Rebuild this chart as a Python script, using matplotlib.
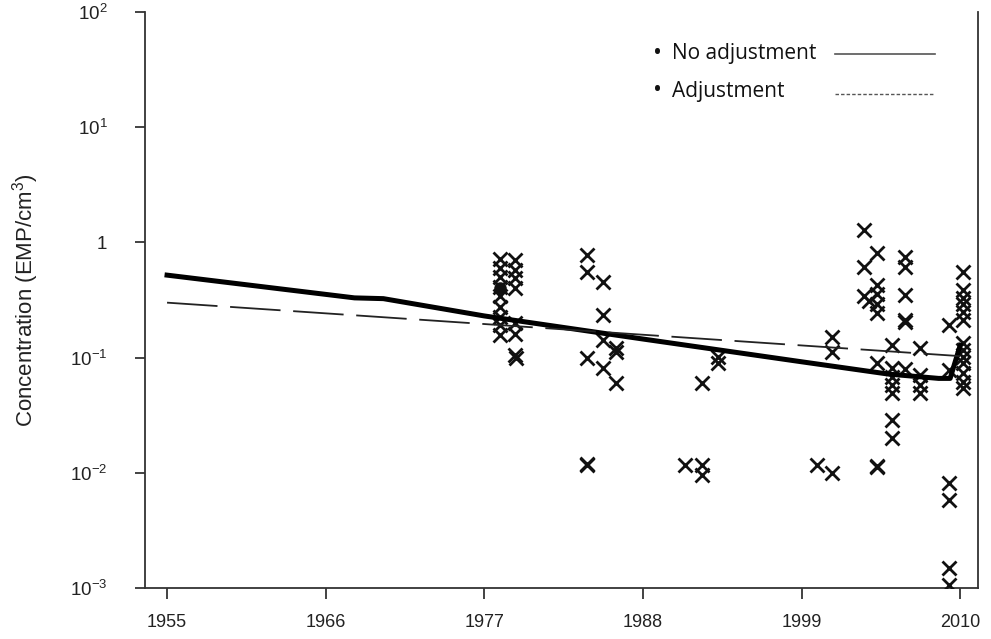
"""
Asbestos fibre concentration over time, with and without adjustment.
"""

import matplotlib
matplotlib.use("Agg")
import matplotlib.pyplot as plt

plt.rcParams["font.family"] = ["Liberation Sans", "DejaVu Sans"]
plt.rcParams["mathtext.fontset"] = "custom"
plt.rcParams["mathtext.rm"] = "Liberation Sans"

# measured concentrations (EMP/cm3)
obs_years = (
    [1978.1] * 9
    + [1979.1] * 7 + [1979.2]
    + [1984.1] * 5
    + [1985.2] * 4
    + [1986.1] * 3
    + [1990.9]
    + [1992.1] * 3
    + [1993.2] * 2
    + [2000.1]
    + [2001.1] * 3
    + [2003.3] * 3 + [2003.7]
    + [2004.2] * 8
    + [2005.3] * 7
    + [2006.2] * 6
    + [2007.2] * 4
    + [2009.2] * 6
    + [2010.2] * 13
)
obs_conc = [
    0.72, 0.60, 0.50, 0.41, 0.34, 0.275, 0.225, 0.19, 0.157,
    0.70, 0.58, 0.49, 0.40, 0.20, 0.16, 0.106, 0.10,
    0.78, 0.55, 0.099, 0.0117, 0.0119,
    0.45, 0.234, 0.142, 0.081,
    0.121, 0.112, 0.06,
    0.0117,
    0.06, 0.0117, 0.0096,
    0.101, 0.090,
    0.0117,
    0.151, 0.112, 0.0100,
    1.28, 0.61, 0.34, 0.31,
    0.81, 0.43, 0.36, 0.29, 0.244, 0.09, 0.0112, 0.0115,
    0.129, 0.081, 0.068, 0.058, 0.049, 0.029, 0.020,
    0.75, 0.61, 0.35, 0.204, 0.21, 0.08,
    0.121, 0.071, 0.058, 0.049,
    0.19, 0.078, 0.0081, 0.0058, 0.0015, 0.00106,
    0.55, 0.386, 0.33, 0.29, 0.25, 0.21, 0.134, 0.116, 0.101, 0.090, 0.073, 0.061, 0.054,
]

# dense overlap of samples
dot_years = [1978.1]
dot_conc = [0.40]

# fitted trends
trend_years = [1955, 1968, 1970, 1977, 1988, 1999, 2005, 2008.5, 2009.3, 2010]
no_adj = [0.52, 0.33, 0.325, 0.23, 0.145, 0.092, 0.072, 0.066, 0.066, 0.128]
adj_years = [1955, 2010]
adj = [0.30, 0.103]

x_ticks = [1955, 1966, 1977, 1988, 1999, 2010]
y_ticks = [1e-3, 1e-2, 1e-1, 1, 10, 100]
y_labels = [r"$\mathregular{10^{-3}}$", r"$\mathregular{10^{-2}}$",
            r"$\mathregular{10^{-1}}$", "1",
            r"$\mathregular{10^{1}}$", r"$\mathregular{10^{2}}$"]

legend_labels = ["No adjustment", "Adjustment"]


def main():
    W, H = 991, 639
    fig = plt.figure(figsize=(W / 100, H / 100), dpi=100)
    ax = fig.add_axes([0.1463, 0.0798, 0.8407, 0.9014])

    ax.plot(obs_years, obs_conc, linestyle="none", marker="x",
            markersize=10, markeredgewidth=2.0, color="#111111", zorder=3)
    ax.plot(dot_years, dot_conc, linestyle="none", marker="o",
            markersize=8, color="#111111", zorder=3)

    ax.plot(trend_years, no_adj, color="black", linewidth=3.6,
            solid_joinstyle="round", zorder=4)
    ax.plot(adj_years, adj, color="#222222", linewidth=1.3,
            dashes=(28, 7), zorder=4)

    ax.set_yscale("log")
    ax.set_xlim(1953.47, 2011.24)
    ax.set_ylim(1e-3, 1e2)

    ax.set_xticks(x_ticks)
    ax.set_xticklabels([str(y) for y in x_ticks])
    ax.set_yticks(y_ticks)
    ax.set_yticklabels(y_labels)
    ax.minorticks_off()

    ax.tick_params(axis="x", length=8, width=1.2, pad=11, labelsize=13,
                   colors="#222222")
    ax.tick_params(axis="y", length=7, width=1.2, pad=20, labelsize=13.5,
                   colors="#222222")

    ax.spines["top"].set_visible(False)
    for side in ("left", "right", "bottom"):
        ax.spines[side].set_linewidth(1.3)
        ax.spines[side].set_color("#333333")

    ax.set_ylabel("Concentration (EMP/cm$^3$)", fontsize=16, labelpad=21,
                  color="#222222")

    # legend: bullet, label, then line sample on the right
    rows_y = [54, 91]
    line_y = [54, 94]
    styles = [dict(linewidth=1.2), dict(linewidth=1.0, dashes=(2.5, 1.5))]
    for label, ty, ly, st in zip(legend_labels, rows_y, line_y, styles):
        fig.text(653 / W, 1 - ty / H, "\u2022", ha="left", va="center",
                 family="Open Sans", fontsize=17, color="#111111")
        fig.text(672 / W, 1 - ty / H, label, ha="left", va="center",
                 family="Open Sans", fontsize=15, color="#111111")
        fig.add_artist(plt.Line2D([835 / W, 935 / W], [1 - ly / H, 1 - ly / H],
                                  color="#555555", **st))

    fig.savefig("out.png", dpi=100)


if __name__ == "__main__":
    main()
